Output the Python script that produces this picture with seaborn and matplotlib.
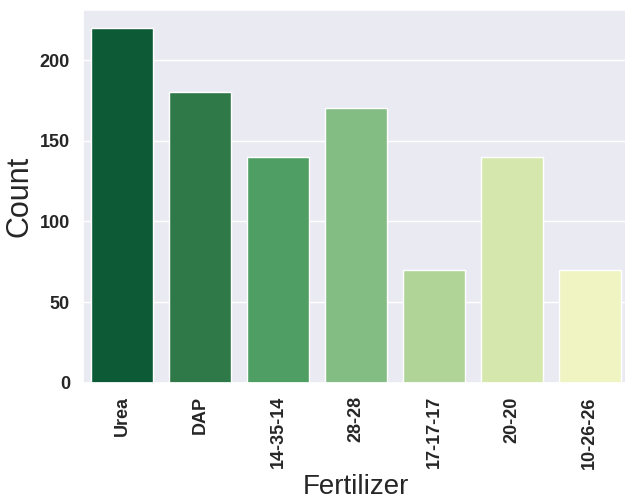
import matplotlib
matplotlib.use("Agg")
import matplotlib.pyplot as plt
import seaborn as sns
import pandas as pd

fertilizers = ["Urea", "DAP", "14-35-14", "28-28", "17-17-17", "20-20", "10-26-26"]
counts = [220, 180, 140, 170, 70, 140, 70]

sns.set_theme(style = "darkgrid")
plt.rcParams["font.family"] = ["Liberation Sans", "DejaVu Sans"]

df = pd.DataFrame({"Fertilizer" : fertilizers, "Count" : counts})

fig = plt.figure(figsize = (6.25, 4.98), dpi = 100)
ax = fig.add_axes([0.133, 0.231, 0.873, 0.749])
sns.barplot(data = df, x = "Fertilizer", y = "Count", hue = "Fertilizer", palette = "YlGn_r", legend = False, ax = ax)
ax.set_xlabel("Fertilizer", fontsize = 20)
ax.set_ylabel("Count", fontsize = 22)
plt.xticks(rotation = 90, fontsize = 13, fontweight = "bold")
plt.yticks(fontsize = 13, fontweight = "bold")
fig.savefig("out.png", dpi = 100)
